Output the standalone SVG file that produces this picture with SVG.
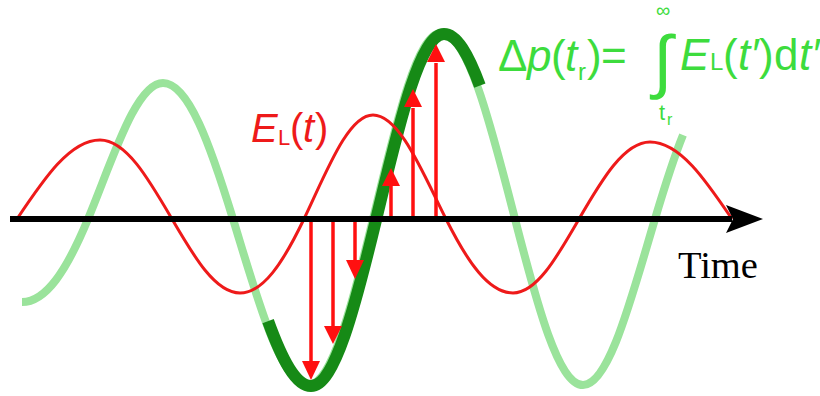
<svg xmlns="http://www.w3.org/2000/svg" width="820" height="396" viewBox="0 0 820 396">
<style>
.lg{fill:none;stroke:#9ae39b;stroke-width:8}
.dg{fill:none;stroke:#168a16;stroke-width:12}
.rc{fill:none;stroke:#ee1a1a;stroke-width:3}
.ar line{stroke:#ff1010;stroke-width:3.5}
.ar polygon{fill:#ff1010}
.gt{font-family:"Liberation Sans",Arial,sans-serif;fill:#3ddc3d}
.rt{font-family:"Liberation Sans",Arial,sans-serif;fill:#ee1a1a}
.it{font-style:italic}
</style>
<rect width="820" height="396" fill="#fff"/>
<g id="potential">
<path class="lg" d="M22,302 C45.9,302 66.5,270.9 88,219 C112.5,160.1 135.9,83 163,83 C188.3,83 210.2,144.6 233,219 C257.5,298.7 280.9,385 308,385 C331.5,385 351.8,307 373,219 C395.2,127 416.4,33 441,33 C467.8,33 490.9,125.1 515,219 C537.2,305.2 558.4,385 583,385 C609.1,385 631.5,297.4 655,219 C664.3,187.8 673.7,158 683,135"/>
<path class="dg" transform="translate(3,1)" d="M265.11,320.12 C278.81,357.94 292.82,385 308,385 C331.5,385 351.8,307 373,219 C395.2,127 416.4,33 441,33 C453.6,33 465.38,53.35 476.83,84.66"/>
</g>
<g id="field">
<path class="rc" d="M17,219 C44.1,178.5 70,140 100,140 C126.1,140 148.5,178.7 172,219 C194.2,257.1 215.4,293 240,293 C263.2,293 283.1,262.6 304,219 C326.5,172 348,115 373,115 C399.4,115 422.2,171.6 446,219 C467.85,262.5 488.75,293 513,293 C536.9,293 557.5,256.2 579,219 C602.15,178.95 624.3,142 650,142 C679.7,142 705.3,179.6 732,219"/>
</g>
<g id="arrows" class="ar">
<line x1="311" y1="221" x2="311" y2="362"/><polygon points="302,361 320,361 311,380"/>
<line x1="333" y1="221" x2="333" y2="327"/><polygon points="324,326 342,326 333,344"/>
<line x1="355" y1="221" x2="355" y2="261"/><polygon points="346,260 364,260 355,279"/>
<line x1="391" y1="217" x2="391" y2="186"/><polygon points="382,186 400,186 391,168"/>
<line x1="413" y1="217" x2="413" y2="108"/><polygon points="404,107 422,107 413,89"/>
<line x1="436" y1="217" x2="436" y2="63"/><polygon points="427,62 445,62 436,44"/>
</g>
<g id="axis">
<line x1="10" y1="219" x2="732" y2="219" stroke="#000" stroke-width="6"/>
<polygon points="726,205 763,219 726,233 733,219" fill="#000"/>
<text x="678" y="278" font-family="'Liberation Serif','Times New Roman',serif" font-size="38.5" fill="#000">Time</text>
</g>
<g id="label-field">
<text class="rt" font-size="40" y="142"><tspan class="it" x="251">E</tspan><tspan x="278" y="145" font-size="22">L</tspan><tspan x="290" y="142">(</tspan><tspan class="it" x="303">t</tspan><tspan x="315">)</tspan></text>
</g>
<g id="formula">
<text class="gt" font-size="44" y="71"><tspan x="498">Δ</tspan><tspan class="it" x="527">p</tspan><tspan x="551">(</tspan><tspan class="it" x="565">t</tspan><tspan x="578" y="80" font-size="24">r</tspan><tspan x="587" y="71">)</tspan><tspan x="601">=</tspan></text>
<text class="gt" font-size="70" x="653" y="85">∫</text>
<text class="gt" font-size="20" x="656" y="17">∞</text>
<text class="gt" font-size="22" y="120"><tspan x="659">t</tspan><tspan x="667" y="125" font-size="16">r</tspan></text>
<text class="gt" font-size="44" y="70"><tspan class="it" x="680">E</tspan><tspan x="710" font-size="24">L</tspan><tspan x="723">(</tspan><tspan class="it" x="738">t′</tspan><tspan x="759">)</tspan><tspan x="774">d</tspan><tspan class="it" x="799">t′</tspan></text>
</g>
</svg>
